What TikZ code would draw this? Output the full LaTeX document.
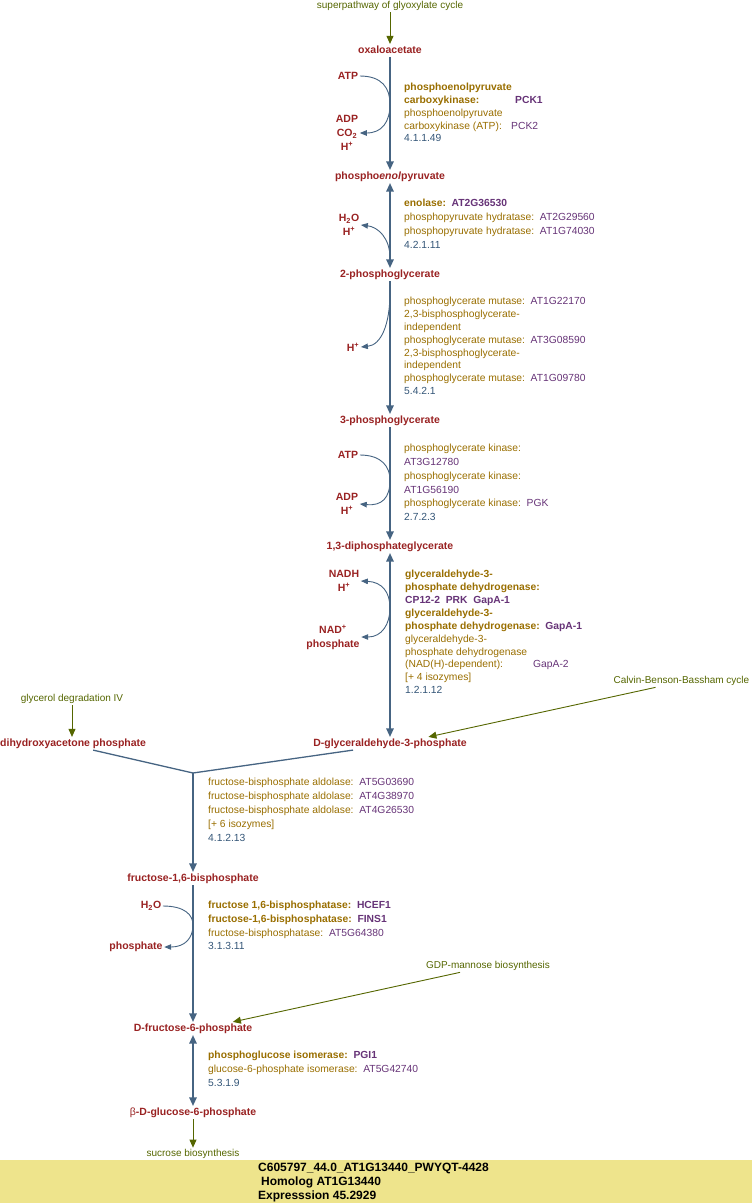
\documentclass[tikz,border=0pt]{standalone}
\usepackage{fontspec}
\setmainfont{Liberation Sans}
\usepackage{tikz}
\usetikzlibrary{arrows.meta,positioning,calc}
\definecolor{cpdred}{RGB}{153,34,34}
\definecolor{enzgold}{RGB}{153,110,0}
\definecolor{genepurple}{RGB}{102,51,119}
\definecolor{ecblue}{RGB}{51,85,119}
\definecolor{arrowblue}{RGB}{70,100,130}
\definecolor{linkgreen}{RGB}{85,102,0}
\definecolor{bandyellow}{RGB}{238,228,140}
\newcommand{\gene}[1]{\textcolor{genepurple}{#1}}
\newcommand{\ecnum}[1]{\textcolor{ecblue}{#1}}

\begin{document}
\begin{tikzpicture}[x=1pt,y=-1pt,
    cpd/.style={text=cpdred, font=\fontsize{10.5}{14}\selectfont\bfseries, inner sep=1.5pt, text height=7.6pt, text depth=2.2pt, yshift=-1.5pt},
    cof/.style={text=cpdred, font=\fontsize{10.5}{14}\selectfont\bfseries, inner sep=1.5pt, align=center, yshift=-1pt},
    enz/.style={text=enzgold, font=\fontsize{10.3}{#1}\selectfont, inner sep=0pt, align=left, anchor=north west},
    enz/.default=13.5,
    linktext/.style={text=linkgreen, font=\fontsize{10}{12}\selectfont, inner sep=1.5pt},
    flow/.style={draw=arrowblue, line width=1.3pt, >={Triangle[length=8.5pt,width=7.5pt]}},
    side/.style={draw=arrowblue, line width=0.9pt, >={Triangle[length=7pt,width=5.5pt]}},
    link/.style={draw=linkgreen, line width=0.9pt, ->, >={Triangle[length=8pt,width=7pt]}}]
    \useasboundingbox (0,0) rectangle (752,1203);
    
    % Info band
    \fill[bandyellow] (0,1160) rectangle (752,1203);
    \node[anchor=north west, inner sep=0pt, align=left, font=\fontsize{12}{14}\selectfont\bfseries] (info) at (258,1162.5)
        {C605797\_44.0\_AT1G13440\_PWYQT-4428\\\hspace*{3pt}Homolog AT1G13440\\Expresssion 45.2929};
    
    % Linked pathways
    \node[linktext] (sup) at (390,6) {superpathway of glyoxylate cycle};
    \node[linktext] (glyc) at (72,699) {glycerol degradation IV};
    \node[linktext, anchor=east] (calvin) at (751,681) {Calvin-Benson-Bassham cycle};
    \node[linktext] (gdp) at (488,966) {GDP-mannose biosynthesis};
    \node[linktext] (sucr) at (193,1154) {sucrose biosynthesis};
    
    % Compounds
    \node[cpd] (oxa) at (390,49) {oxaloacetate};
    \node[cpd] (pep) at (390,175) {phospho\textit{enol}pyruvate};
    \node[cpd] (pga2) at (390,273) {2-phosphoglycerate};
    \node[cpd] (pga3) at (390,419) {3-phosphoglycerate};
    \node[cpd] (dpg) at (390,545) {1,3-diphosphateglycerate};
    \node[cpd] (gap) at (390,742) {D-glyceraldehyde-3-phosphate};
    \node[cpd, anchor=west] (dhap) at (-1.5,742) {dihydroxyacetone phosphate};
    \node[cpd] (fbp) at (193,877) {fructose-1,6-bisphosphate};
    \node[cpd] (f6p) at (193,1027) {D-fructose-6-phosphate};
    \node[cpd] (g6p) at (193,1111) {{\mdseries β}-D-glucose-6-phosphate};
    
    % Side compounds
    \node[cof] (atpa) at (348,75) {ATP};
    \node[cof] (adpa) at (347,132) {ADP\\CO\textsubscript{2}\\H\textsuperscript{+}};
    \node[cof] (h2oa) at (349,224) {H\textsubscript{2}O\\H\textsuperscript{+}};
    \node[cof] (hpa) at (353,346) {H\textsuperscript{+}};
    \node[cof] (atpb) at (348,454) {ATP};
    \node[cof] (adpb) at (347,503) {ADP\\H\textsuperscript{+}};
    \node[cof] (nadh) at (344,580) {NADH\\H\textsuperscript{+}};
    \node[cof] (nad) at (333,636) {NAD\textsuperscript{+}\\phosphate};
    \node[cof] (h2ob) at (151,905) {H\textsubscript{2}O};
    \node[cof] (phos) at (136,946) {phosphate};
    
    % Enzymes
    \node[enz=12.8] (pck) at (404,83) {\textbf{phosphoenolpyruvate}\\
        \makebox[111pt][l]{\textbf{carboxykinase:}}\textbf{\gene{PCK1}}\\
        phosphoenolpyruvate\\
        \makebox[107pt][l]{carboxykinase (ATP):}\gene{PCK2}\\
        \ecnum{4.1.1.49}};
    \node[enz=14] (eno) at (404,199) {\textbf{enolase:\ \ \gene{AT2G36530}}\\
        phosphopyruvate hydratase:\ \ \gene{AT2G29560}\\
        phosphopyruvate hydratase:\ \ \gene{AT1G74030}\\
        \ecnum{4.2.1.11}};
    \node[enz=12.85] (pgm) at (404,297) {phosphoglycerate mutase:\ \ \gene{AT1G22170}\\
        2,3-bisphosphoglycerate-\\
        independent\\
        phosphoglycerate mutase:\ \ \gene{AT3G08590}\\
        2,3-bisphosphoglycerate-\\
        independent\\
        phosphoglycerate mutase:\ \ \gene{AT1G09780}\\
        \ecnum{5.4.2.1}};
    \node[enz=13.8] (pgk) at (404,444) {phosphoglycerate kinase:\\
        \gene{AT3G12780}\\
        phosphoglycerate kinase:\\
        \gene{AT1G56190}\\
        phosphoglycerate kinase:\ \ \gene{PGK}\\
        \ecnum{2.7.2.3}};
    \node[enz=12.9] (gapdh) at (405,570) {\textbf{glyceraldehyde-3-}\\
        \textbf{phosphate dehydrogenase:}\\
        \textbf{\gene{CP12-2\ \ PRK\ \ GapA-1}}\\
        \textbf{glyceraldehyde-3-}\\
        \textbf{phosphate dehydrogenase:\ \ \gene{GapA-1}}\\
        glyceraldehyde-3-\\
        phosphate dehydrogenase\\
        \makebox[128pt][l]{(NAD(H)-dependent):}\gene{GapA-2}\\
        {[}+ 4 isozymes]\\
        \ecnum{1.2.1.12}};
    \node[enz=14] (fba) at (208,778) {fructose-bisphosphate aldolase:\ \ \gene{AT5G03690}\\
        fructose-bisphosphate aldolase:\ \ \gene{AT4G38970}\\
        fructose-bisphosphate aldolase:\ \ \gene{AT4G26530}\\
        {[}+ 6 isozymes]\\
        \ecnum{4.1.2.13}};
    \node[enz=13.7] (fbpase) at (208,901) {\textbf{fructose 1,6-bisphosphatase:\ \ \gene{HCEF1}}\\
        \textbf{fructose-1,6-bisphosphatase:\ \ \gene{FINS1}}\\
        fructose-bisphosphatase:\ \ \gene{AT5G64380}\\
        \ecnum{3.1.3.11}};
    \node[enz=14] (pgi) at (208,1051) {\textbf{phosphoglucose isomerase:\ \ \gene{PGI1}}\\
        glucose-6-phosphate isomerase:\ \ \gene{AT5G42740}\\
        \ecnum{5.3.1.9}};
    
    % Main reactions
    \foreach \a/\b in {oxa/pep, pga2/pga3, pga3/dpg, fbp/f6p}
        \draw[flow,->] (\a) -- (\b);
    \foreach \a/\b in {pep/pga2, dpg/gap, f6p/g6p}
        \draw[flow,<->] (\a) -- (\b);
    
    % Aldolase junction
    \coordinate (jn) at (193,773);
    \draw[flow] ([xshift=20pt]dhap.south) -- (jn) -- ([xshift=-37pt]gap.south);
    \draw[flow,->] (jn) -- (fbp);
    
    % Side reactions
    \coordinate (ta) at (390,104);
    \coordinate (tb) at (390,258);
    \coordinate (tc) at (390,292);
    \coordinate (td) at (390,480);
    \coordinate (te) at (390,608);
    \coordinate (tf) at (193,925);
    \draw[side,->] (atpa.east) .. controls (382,76) and (390,88) .. (ta) .. controls (390,122) and (382,133) .. (adpa.east);
    \draw[side,<-] (h2oa.east) .. controls (378,227) and (390,238) .. (tb);
    \draw[side,->] (tc) .. controls (390,325) and (381,345) .. (hpa.east);
    \draw[side,->] (atpb.east) .. controls (382,455) and (390,467) .. (td) .. controls (390,498) and (382,506) .. (adpb.east);
    \draw[side,<->] (nadh.east) .. controls (382,582) and (390,592) .. (te) .. controls (390,624) and (382,637) .. (nad.east);
    \draw[side,->] (h2ob.east) .. controls (185,906) and (193,915) .. (tf) .. controls (193,938) and (185,947) .. (phos.east);
    
    % Links to other pathways
    \draw[link] (sup) -- (oxa);
    \draw[link] (glyc.south) -- (glyc.south |- dhap.north);
    \draw[link] ([xshift=-26pt]calvin.south) -- ([xshift=-40pt]gap.north east);
    \draw[link] ([xshift=-28pt]gdp.south) -- ([xshift=-21pt]f6p.north east);
    \draw[link] (g6p) -- (sucr);
\end{tikzpicture}
\end{document}
